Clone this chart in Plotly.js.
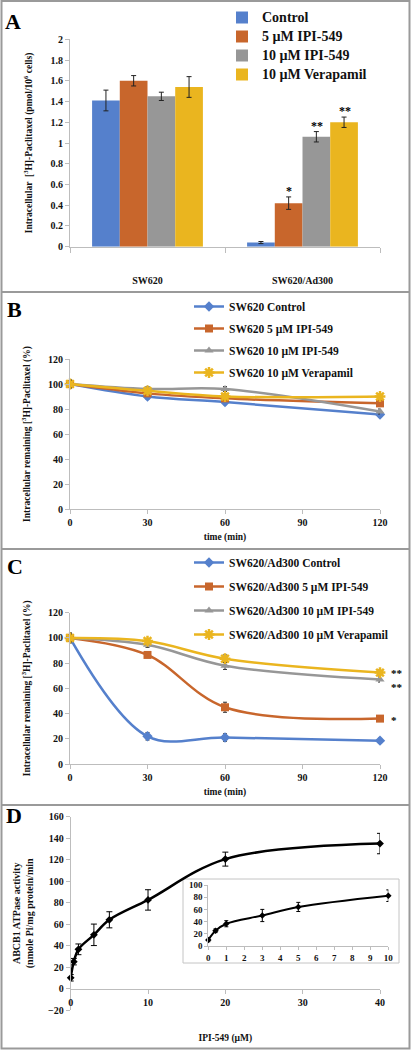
<!DOCTYPE html>
<html>
<head>
<meta charset="utf-8">
<script src="https://cdn.plot.ly/plotly-3.0.1.min.js"></script>
<style>html,body{margin:0;padding:0;background:#fff;}#chart{width:411px;height:1050px;}</style>
</head>
<body>
<div id="chart"></div>
<script>
// ---------- DATA ----------
// Panel A
const groupsA = ['SW620', 'SW620/Ad300'];
const namesA = ['Control', '5 µM IPI-549', '10 µM IPI-549', '10 µM Verapamil'];
const controlA = [1.41, 0.04];
const controlErrA = [0.10, 0.01];
const ipi5A = [1.60, 0.42];
const ipi5ErrA = [0.05, 0.06];
const ipi10A = [1.45, 1.06];
const ipi10ErrA = [0.04, 0.05];
const verapamilA = [1.54, 1.20];
const verapamilErrA = [0.10, 0.05];
const starsA = ['', '*', '**', '**'];   // significance over SW620/Ad300 bars

// Panel B / C
const timeMin = [0, 30, 60, 120];
const namesB = ['SW620 Control', 'SW620 5 µM IPI-549', 'SW620 10 µM IPI-549', 'SW620 10 µM Verapamil'];
const controlB = [100, 90, 85.5, 75.5];
const ipi5B = [100, 92.5, 88.5, 84.5];
const ipi10B = [100, 96, 96, 78];
const verapamilB = [100, 94.5, 90, 90];
const errB = [3, 2, 2, 2];

const namesC = ['SW620/Ad300 Control', 'SW620/Ad300 5 µM IPI-549', 'SW620/Ad300 10 µM IPI-549', 'SW620/Ad300 10 µM Verapamil'];
const controlC = [100, 22, 21, 18.5];
const controlErrC = [4, 3, 3, 2];
const ipi5C = [100, 86.5, 45, 36];
const ipi5ErrC = [3, 2, 4, 2];
const ipi10C = [100, 94.5, 78, 67];
const ipi10ErrC = [3, 2, 3, 2];
const verapamilC = [100, 97.5, 83.5, 72.5];
const verapamilErrC = [3, 2, 3, 2];
const starsC = ['', '*', '**', '**'];

// Panel D
const concD = [0, 0.4, 1, 3, 5, 10, 20, 40];
const atpaseD = [10, 25, 36.5, 50, 64, 82.5, 120.5, 135];
const atpaseErrD = [3, 3, 5, 10, 7.5, 9.5, 6.5, 9.5];
const insetMaxConc = 10;

// ---------- STYLE ----------
const W = 411, H = 1050;
const fx = p => p / W;
const fy = p => 1 - p / H;
const SERIF = 'Liberation Serif, Times New Roman, serif';
const colors = ['#5580cc', '#c8662c', '#979797', '#eab51f'];
const symbols = ['diamond', 'square', 'triangle-up', 'asterisk-open'];
const axisGray = '#bdbdbd';
const tickFont = {family: SERIF, size: 10, color: '#111', weight: 'bold'};
const titleFont = {family: SERIF, size: 9.5, color: '#111', weight: 'bold'};

function baseAxis(extra) {
  return Object.assign({
    showline: true, linecolor: axisGray, linewidth: 1,
    ticks: 'outside', ticklen: 4, tickcolor: axisGray,
    showgrid: false, zeroline: false, tickfont: tickFont,
    automargin: false, fixedrange: true
  }, extra);
}

const traces = [];

// Panel A bars
const valsA = [controlA, ipi5A, ipi10A, verapamilA];
const errsA = [controlErrA, ipi5ErrA, ipi10ErrA, verapamilErrA];
valsA.forEach((v, i) => {
  traces.push({
    type: 'bar', x: groupsA, y: v,
    name: '<span style="font-size:14px">' + namesA[i] + '</span>',
    marker: {color: colors[i]},
    error_y: {type: 'data', array: errsA[i], color: '#222', thickness: 1, width: 2.5},
    xaxis: 'x', yaxis: 'y', legend: 'legend', hoverinfo: 'skip'
  });
});

// Panel B & C lines
function lineTrace(x, y, err, name, i, ax, leg) {
  return {
    type: 'scatter', mode: 'lines+markers', x: x, y: y, name: name,
    line: {color: colors[i], width: 2.5, shape: 'spline', smoothing: 1},
    marker: {symbol: symbols[i], size: i === 3 ? 9 : 8, color: colors[i],
             line: {color: colors[i], width: i === 3 ? 2.5 : 0}},
    error_y: {type: 'data', array: err, color: '#333', thickness: 1, width: 2},
    xaxis: 'x' + ax, yaxis: 'y' + ax, legend: leg, legendgroup: leg + '_' + i,
    cliponaxis: false, hoverinfo: 'skip'
  };
}
[controlB, ipi5B, ipi10B, verapamilB].forEach((v, i) => {
  traces.push(lineTrace(timeMin, v, errB, namesB[i], i, '2', 'legend2'));
});
const valsC = [controlC, ipi5C, ipi10C, verapamilC];
const errsC = [controlErrC, ipi5ErrC, ipi10ErrC, verapamilErrC];
valsC.forEach((v, i) => {
  traces.push(lineTrace(timeMin, v, errsC[i], namesC[i], i, '3', 'legend3'));
});

// Panel D main + inset
traces.push({
  type: 'scatter', mode: 'lines+markers', x: concD, y: atpaseD, showlegend: false,
  line: {color: '#000', width: 2.5, shape: 'spline', smoothing: 1},
  marker: {symbol: 'diamond', size: 6, color: '#000'},
  error_y: {type: 'data', array: atpaseErrD, color: '#000', thickness: 1, width: 3},
  xaxis: 'x4', yaxis: 'y4', cliponaxis: false, hoverinfo: 'skip'
});
const insetIdx = concD.map((c, i) => i).filter(i => concD[i] <= insetMaxConc);
traces.push({
  type: 'scatter', mode: 'lines+markers',
  x: insetIdx.map(i => concD[i]), y: insetIdx.map(i => atpaseD[i]), showlegend: false,
  line: {color: '#000', width: 2, shape: 'spline', smoothing: 1},
  marker: {symbol: 'diamond', size: 5, color: '#000'},
  error_y: {type: 'data', array: insetIdx.map(i => atpaseErrD[i]), color: '#000', thickness: 1, width: 2},
  xaxis: 'x5', yaxis: 'y5', cliponaxis: false, hoverinfo: 'skip'
});

// ---------- LAYOUT ----------
const yDomD = [fy(1010), fy(816.7)];
const yRangeD = [-20, 160];
const zeroPosD = yDomD[0] + (yDomD[1] - yDomD[0]) * (0 - yRangeD[0]) / (yRangeD[1] - yRangeD[0]);

const annotations = [];
// panel letters
[['A', 13, 21], ['B', 14, 309], ['C', 15, 566], ['D', 14, 815]].forEach(p => {
  annotations.push({text: p[0], xref: 'paper', yref: 'paper', x: fx(p[1]), y: fy(p[2]),
    xanchor: 'center', yanchor: 'middle', showarrow: false,
    font: {family: SERIF, size: 22, color: '#000', weight: 'bold'}});
});
// stars panel A (over SW620/Ad300 group)
const barPx = 28;
starsA.forEach((s, i) => {
  if (!s) return;
  annotations.push({text: s, xref: 'x', yref: 'y', x: groupsA[1], y: valsA[i][1] + errsA[i][1],
    xshift: (i - 1.5) * barPx, yshift: -3, yanchor: 'bottom', showarrow: false,
    font: {family: SERIF, size: 12, color: '#000', weight: 'bold'}});
});
// stars panel C
const starShiftC = [0, -1, -7, 0];
starsC.forEach((s, i) => {
  if (!s) return;
  annotations.push({text: s, xref: 'x3', yref: 'y3', x: timeMin[timeMin.length - 1],
    y: valsC[i][valsC[i].length - 1], xanchor: 'left', xshift: 9, yshift: starShiftC[i],
    showarrow: false, font: {family: SERIF, size: 11, color: '#000', weight: 'bold'}});
});

const shapes = [
  {type: 'rect', xref: 'paper', yref: 'paper', x0: fx(1.5), x1: fx(409.5), y0: fy(1048.5), y1: fy(1),
   line: {color: '#9a9a9a', width: 2}, layer: 'below'},
  {type: 'line', xref: 'paper', yref: 'paper', x0: fx(1.5), x1: fx(409.5), y0: fy(292), y1: fy(292),
   line: {color: '#9a9a9a', width: 2}},
  {type: 'line', xref: 'paper', yref: 'paper', x0: fx(1.5), x1: fx(409.5), y0: fy(549), y1: fy(549),
   line: {color: '#9a9a9a', width: 2}},
  {type: 'line', xref: 'paper', yref: 'paper', x0: fx(1.5), x1: fx(409.5), y0: fy(805), y1: fy(805),
   line: {color: '#9a9a9a', width: 2}},
  {type: 'rect', xref: 'paper', yref: 'paper', x0: fx(183), x1: fx(399), y0: fy(963), y1: fy(879),
   line: {color: '#c4c4c4', width: 1}, fillcolor: '#fff', layer: 'below'}
];

const legendCommon = {xanchor: 'left', yanchor: 'top', bgcolor: 'rgba(0,0,0,0)',
  borderwidth: 0, itemclick: false, itemdoubleclick: false};

const layout = {
  width: W, height: H,
  margin: {l: 0, r: 0, t: 0, b: 0, pad: 0},
  paper_bgcolor: '#fff', plot_bgcolor: 'rgba(0,0,0,0)',
  showlegend: true,
  barmode: 'group', bargap: 0.285, bargroupgap: 0,
  font: {family: SERIF, color: '#111'},
  // A
  xaxis: baseAxis({domain: [fx(70), fx(380)], anchor: 'y', type: 'category',
    tickson: 'boundaries', ticklen: 5, ticklabelstandoff: 24}),
  yaxis: baseAxis({domain: [fy(246.7), fy(39.3)], anchor: 'x', range: [0, 2], dtick: 0.2,
    title: {text: 'Intracellular  [<sup>3</sup>H]-Paclitaxel (pmol/10<sup>6</sup> cells)', font: titleFont, standoff: 16}}),
  // B
  xaxis2: baseAxis({domain: [fx(70), fx(380)], anchor: 'y2', range: [0, 120], dtick: 30,
    title: {text: 'time (min)', font: titleFont, standoff: 6}}),
  yaxis2: baseAxis({domain: [fy(509), fy(359)], anchor: 'x2', range: [0, 120], dtick: 20,
    title: {text: 'Intracellular remaining [<sup>3</sup>H]-Paclitaxel (%)', font: titleFont, standoff: 15}}),
  // C
  xaxis3: baseAxis({domain: [fx(70), fx(380)], anchor: 'y3', range: [0, 120], dtick: 30,
    title: {text: 'time (min)', font: titleFont, standoff: 6}}),
  yaxis3: baseAxis({domain: [fy(764), fy(612.7)], anchor: 'x3', range: [0, 120], dtick: 20,
    title: {text: 'Intracellular remaining [<sup>3</sup>H]-Paclitaxel (%)', font: titleFont, standoff: 15}}),
  // D
  xaxis4: baseAxis({domain: [fx(70.7), fx(380)], anchor: 'free', position: zeroPosD,
    range: [0, 40], dtick: 10,
    title: {text: 'IPI-549 (µM)', font: titleFont, standoff: 27}}),
  yaxis4: baseAxis({domain: yDomD, anchor: 'x4', range: yRangeD, dtick: 20,
    title: {text: 'ABCB1 ATPase activity<br>(nmole Pi/mg protein/min', font: {family: SERIF, size: 10, color: '#111', weight: 'bold'}, standoff: 12}}),
  // inset
  xaxis5: baseAxis({domain: [fx(208.3), fx(388.3)], anchor: 'y5', range: [0, 10], dtick: 1,
    ticklen: 3, tickfont: {family: SERIF, size: 9, color: '#111', weight: 'bold'}}),
  yaxis5: baseAxis({domain: [fy(946), fy(885)], anchor: 'x5', range: [0, 100], dtick: 20,
    ticklen: 3, tickfont: {family: SERIF, size: 9, color: '#111', weight: 'bold'}}),
  legend: Object.assign({}, legendCommon, {x: fx(222), y: fy(3),
    font: {family: SERIF, size: 12, color: '#111', weight: 'bold'}, tracegroupgap: 0}),
  legend2: Object.assign({}, legendCommon, {x: fx(189), y: fy(292), traceorder: 'grouped',
    tracegroupgap: 3, font: {family: SERIF, size: 11.5, color: '#111', weight: 'bold'}}),
  legend3: Object.assign({}, legendCommon, {x: fx(189), y: fy(548), traceorder: 'grouped',
    tracegroupgap: 5, font: {family: SERIF, size: 11.5, color: '#111', weight: 'bold'}}),
  annotations: annotations,
  shapes: shapes
};

Plotly.newPlot('chart', traces, layout, {staticPlot: true, displayModeBar: false});
</script>
</body>
</html>
